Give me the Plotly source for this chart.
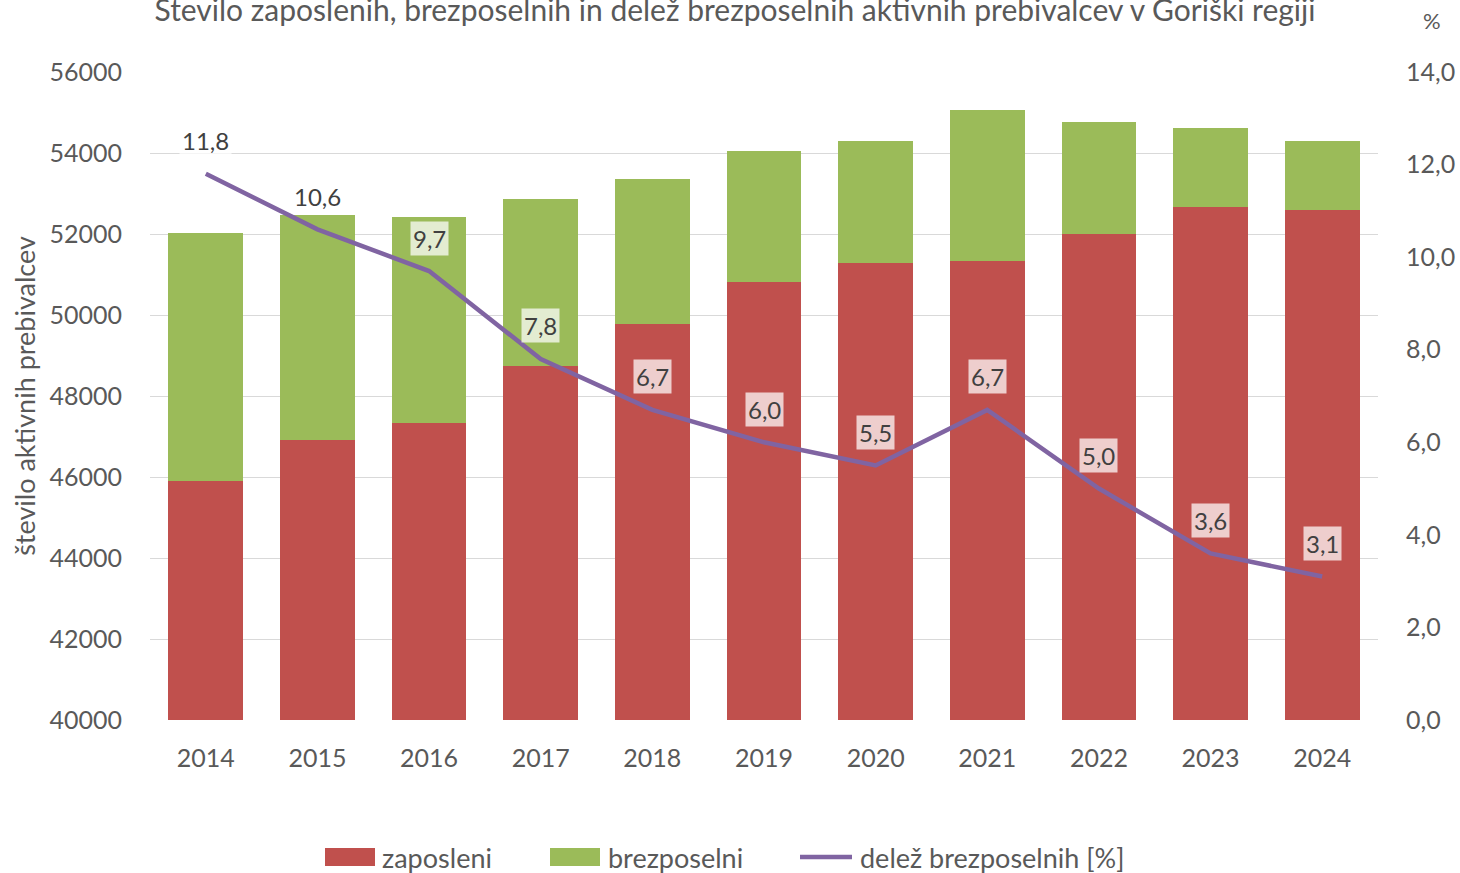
import plotly.graph_objects as go

years = ["2014", "2015", "2016", "2017", "2018", "2019", "2020", "2021", "2022", "2023", "2024"]
zaposleni = [45900, 46910, 47330, 48740, 49780, 50820, 51290, 51330, 52000, 52670, 52600]
skupaj = [52030, 52470, 52430, 52870, 53360, 54050, 54300, 55060, 54770, 54620, 54300]
brezposelni = [s - z for s, z in zip(skupaj, zaposleni)]
delez = [11.8, 10.6, 9.7, 7.8, 6.7, 6.0, 5.5, 6.7, 5.0, 3.6, 3.1]

GREY = "#595959"
FONT = "Lato"
RED, GREEN, PURPLE = "#c0504d", "#9bbb59", "#8064a2"

fig = go.Figure()
fig.add_trace(go.Bar(x=years, y=zaposleni, name="zaposleni", marker_color=RED,
                     marker_line_width=0, showlegend=False))
fig.add_trace(go.Bar(x=years, y=brezposelni, name="brezposelni", marker_color=GREEN,
                     marker_line_width=0, showlegend=False))
fig.add_trace(go.Scatter(x=years, y=delez, name="delež brezposelnih [%]", yaxis="y2",
                         mode="lines", line=dict(color=PURPLE, width=4.5), showlegend=False))

for i, v in enumerate(delez):
    fig.add_annotation(x=i, y=v, xref="x", yref="y2", yshift=33,
                       text=f"{v:.1f}".replace(".", ","), showarrow=False,
                       font=dict(family=FONT, size=24, color="#404040"),
                       bgcolor="rgba(255,255,255,0.72)", borderpad=2)

# paper coords (plot area) from pixel positions
def px(xp):
    return (xp - 150) / 1228

def py(yp):
    return (720 - yp) / 648

# "%" unit label above right axis
fig.add_annotation(x=px(1432), y=py(20), xref="paper", yref="paper", text="%",
                   showarrow=False, xanchor="center", yanchor="middle",
                   font=dict(family=FONT, size=22, color=GREY))

# manual legend
leg_items = [("zaposleni", RED, "rect", 325, 375, 380),
             ("brezposelni", GREEN, "rect", 550, 600, 606),
             ("delež brezposelnih [%]", PURPLE, "line", 800, 852, 858)]
for name, col, kind, x0, x1, tx in leg_items:
    if kind == "rect":
        fig.add_shape(type="rect", xref="paper", yref="paper", x0=px(x0), x1=px(x1),
                      y0=py(866), y1=py(848), fillcolor=col, line_width=0)
    else:
        fig.add_shape(type="line", xref="paper", yref="paper", x0=px(x0), x1=px(x1),
                      y0=py(857), y1=py(857), line=dict(color=col, width=4.5))
    fig.add_annotation(x=px(tx), y=py(857), xref="paper", yref="paper", text=name,
                       showarrow=False, xanchor="left", yanchor="middle",
                       font=dict(family=FONT, size=27, color=GREY))

fig.update_layout(
    width=1460, height=873,
    margin=dict(l=150, r=82, t=72, b=153, autoexpand=False),
    paper_bgcolor="white", plot_bgcolor="white",
    barmode="stack", bargap=0.33,
    separators=",.",
    font=dict(family=FONT, size=25, color=GREY),
    title=dict(text="Število zaposlenih, brezposelnih in delež brezposelnih aktivnih prebivalcev v Goriški regiji",
               x=735 / 1460, xanchor="center", y=1 - 10 / 873, yanchor="middle",
               yref="container", font=dict(family=FONT, size=30, color=GREY)),
    xaxis=dict(type="category", range=[-0.5, 10.5], showgrid=False, ticks="outside", ticklen=16,
               tickcolor="rgba(0,0,0,0)", showline=False, automargin=False,
               tickfont=dict(size=25, color=GREY)),
    yaxis=dict(range=[40000, 56000], dtick=2000, tickformat="d", showgrid=True,
               gridcolor="#d9d9d9", gridwidth=1.3, zeroline=False, automargin=False,
               ticks="outside", ticklen=22, tickcolor="rgba(0,0,0,0)",
               title=dict(text="število aktivnih prebivalcev", font=dict(size=27, color=GREY), standoff=6),
               tickfont=dict(size=25, color=GREY)),
    yaxis2=dict(range=[0, 14], dtick=2, tickformat=".1f", overlaying="y", side="right",
                showgrid=False, zeroline=False, ticks="outside", ticklen=22, automargin=False,
                tickcolor="rgba(0,0,0,0)", tickfont=dict(size=25, color=GREY)),
    showlegend=False,
)

fig.write_html("out.html", config={"displayModeBar": False},
               post_script="document.body.style.margin='0px';document.body.style.overflow='hidden';")
